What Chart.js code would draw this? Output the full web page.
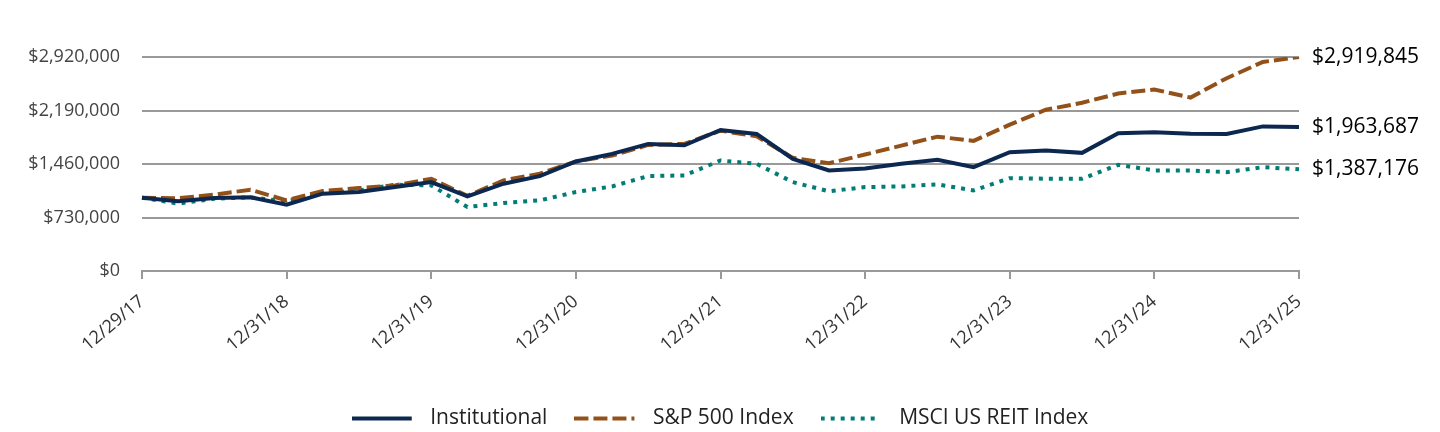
<!DOCTYPE html>
<html>
<head>
<meta charset="utf-8">
<script src="https://cdn.jsdelivr.net/npm/chart.js@4.4.1/dist/chart.umd.min.js"></script>
<style>
  html, body { margin: 0; padding: 0; background: #fff; }
  #wrap { width: 1440px; height: 432px; position: relative; }
</style>
</head>
<body>
<div id="wrap"><canvas id="c"></canvas></div>
<script>
const quarters = ["12/29/17","3/31/18","6/30/18","9/30/18","12/31/18","3/31/19","6/30/19","9/30/19","12/31/19",
  "3/31/20","6/30/20","9/30/20","12/31/20","3/31/21","6/30/21","9/30/21","12/31/21",
  "3/31/22","6/30/22","9/30/22","12/31/22","3/31/23","6/30/23","9/30/23","12/31/23",
  "3/31/24","6/30/24","9/30/24","12/31/24","3/31/25","6/30/25","9/30/25","12/31/25"];
const seriesNames = ["Institutional", "S&P 500 Index", "MSCI US REIT Index"];
const institutional = [1000000, 951000, 995000, 1005000, 905000, 1055000, 1077000, 1145000, 1213000,
  1019000, 1191000, 1295000, 1494000, 1598000, 1734000, 1716000, 1924000,
  1870000, 1530000, 1372000, 1399000, 1462000, 1517000, 1417000, 1620000,
  1643000, 1612000, 1879000, 1892000, 1874000, 1870000, 1973000, 1963687];
const sp500 = [1000000, 993000, 1041000, 1109000, 964000, 1091000, 1131000, 1168000, 1259000,
  1025000, 1236000, 1327000, 1494000, 1575000, 1720000, 1734000, 1915000,
  1838000, 1544000, 1471000, 1589000, 1711000, 1833000, 1775000, 1997000,
  2200000, 2295000, 2422000, 2476000, 2367000, 2631000, 2852000, 2919845];
const reit = [1000000, 919000, 987000, 1005000, 950000, 1065000, 1100000, 1177000, 1168000,
  873000, 928000, 964000, 1077000, 1154000, 1295000, 1304000, 1508000,
  1462000, 1213000, 1087000, 1145000, 1154000, 1182000, 1100000, 1267000,
  1259000, 1259000, 1449000, 1372000, 1372000, 1349000, 1417000, 1387176];
const yTicks = [0, 730000, 1460000, 2190000, 2920000];
const tickEvery = 4;

const colors = ["#0c2851", "#93511a", "#007d74"];
const dashes = [[], [14, 5], [4, 6]];
const widths = [4, 4, 4];

function legendLine(color, dash, lw) {
  const cv = document.createElement('canvas');
  cv.width = 68; cv.height = 8;
  const g = cv.getContext('2d');
  g.strokeStyle = color; g.lineWidth = lw; g.setLineDash(dash); g.lineCap = 'butt';
  g.beginPath(); g.moveTo(0, 4); g.lineTo(60, 4); g.stroke();
  return cv;
}

const fmt = v => '$' + Math.round(v).toLocaleString('en-US');

const endLabels = {
  id: 'endLabels',
  afterDatasetsDraw(chart) {
    const ctx = chart.ctx;
    const y = chart.scales.y;
    const area = chart.chartArea;
    ctx.save();
    ctx.font = '21px "Open Sans"';
    ctx.fillStyle = '#000';
    ctx.textAlign = 'left';
    ctx.textBaseline = 'middle';
    chart.data.datasets.forEach(ds => {
      const v = ds.data[ds.data.length - 1];
      ctx.fillText(fmt(v), area.right + 13, y.getPixelForValue(v));
    });
    ctx.restore();
  }
};

const datasets = [institutional, sp500, reit].map((d, i) => ({
  label: seriesNames[i],
  data: d,
  borderColor: colors[i],
  backgroundColor: colors[i],
  borderWidth: widths[i],
  borderDash: dashes[i],
  pointRadius: 0,
  pointHoverRadius: 0,
  pointStyle: legendLine(colors[i], dashes[i], widths[i]),
  tension: 0,
  fill: false,
  yAxisID: 'y'
}));

new Chart(document.getElementById('c'), {
  type: 'line',
  data: { labels: quarters, datasets },
  options: {
    responsive: true,
    maintainAspectRatio: false,
    animation: false,
    layout: { padding: { top: 57, right: 0, left: 0, bottom: -7 } },
    plugins: {
      legend: {
        position: 'bottom',
        labels: {
          usePointStyle: true,
          pointStyleWidth: 68,
          boxHeight: 8,
          padding: 27,
          color: '#222',
          font: { family: '"Open Sans"', size: 21 }
        }
      },
      tooltip: { enabled: false }
    },
    scales: {
      x: {
        offset: false,
        afterFit(scale) { scale.height = 110; scale.paddingLeft = 0; scale.paddingRight = 0; },
        grid: { drawOnChartArea: false, drawTicks: true, tickLength: 8, color: '#999', lineWidth: 2 },
        border: { display: true, color: '#999', width: 2 },
        ticks: {
          autoSkip: false,
          maxRotation: 40, minRotation: 40,
          padding: 12,
          color: '#333',
          font: { family: '"Open Sans"', size: 18 },
          callback(value, index) { return index % tickEvery === 0 ? quarters[index] : null; }
        }
      },
      y: {
        min: 0, max: 2920000,
        afterFit(scale) { scale.width = 142; },
        afterBuildTicks(scale) { scale.ticks = yTicks.map(v => ({ value: v })); },
        grid: { drawTicks: false, color: '#999', lineWidth: 2 },
        border: { display: false },
        ticks: {
          padding: 22,
          color: '#444',
          font: { family: '"Open Sans"', size: 18 },
          callback: v => fmt(v)
        }
      },
      yRight: {
        position: 'right',
        display: true,
        afterFit(scale) { scale.width = 141; },
        grid: { display: false, drawTicks: false },
        border: { display: false },
        ticks: { display: false }
      }
    }
  },
  plugins: [endLabels]
});
</script>
</body>
</html>
